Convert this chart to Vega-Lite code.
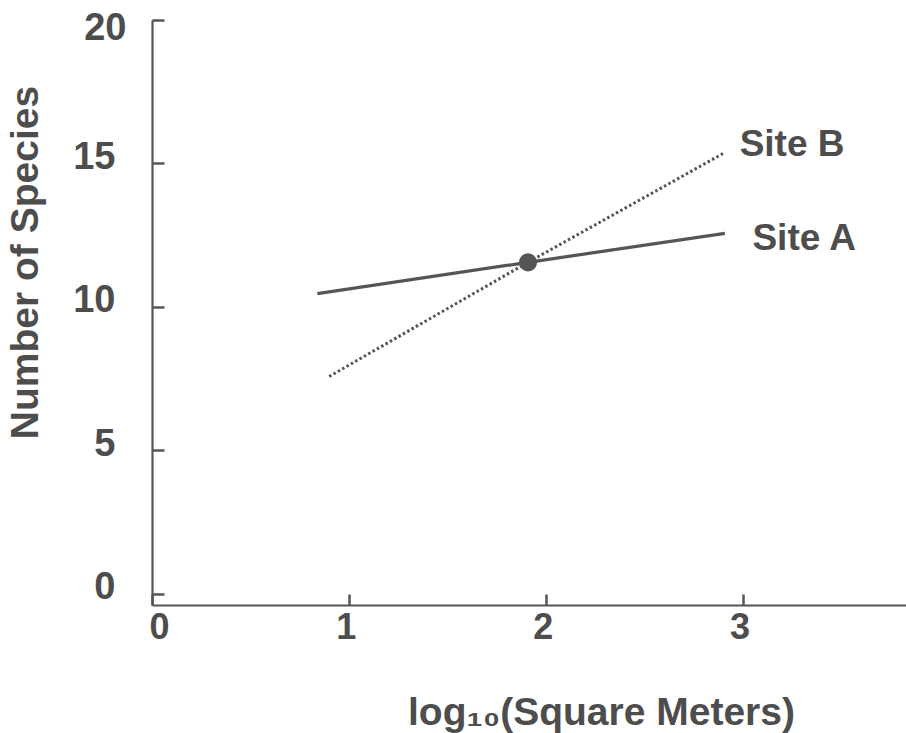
{
  "$schema": "https://vega.github.io/schema/vega-lite/v6.json",
  "width": 754,
  "height": 585,
  "autosize": "none",
  "padding": {"left": 152, "top": 20, "right": 0, "bottom": 128},
  "background": "white",
  "config": {
    "view": {"stroke": null},
    "font": "Liberation Sans",
    "axis": {"grid": false}
  },
  "datasets": {
    "lines": [
      {"site": "Site A", "x": 0.84, "y": 10.46},
      {"site": "Site A", "x": 1.91, "y": 11.55},
      {"site": "Site A", "x": 2.91, "y": 12.56},
      {"site": "Site B", "x": 0.9, "y": 7.57},
      {"site": "Site B", "x": 1.91, "y": 11.55},
      {"site": "Site B", "x": 2.91, "y": 15.38}
    ],
    "point": [{"x": 1.91, "y": 11.55}],
    "labels": [
      {"label": "Site B", "x": 2.985, "y": 15.63},
      {"label": "Site A", "x": 3.05, "y": 12.35}
    ]
  },
  "layer": [
    {
      "data": {"name": "lines"},
      "transform": [{"filter": "datum.site === 'Site A'"}],
      "mark": {"type": "line", "color": "#555555", "strokeWidth": 3.2},
      "encoding": {
        "x": {
          "field": "x", "type": "quantitative",
          "scale": {"domain": [0, 3.83], "nice": false, "zero": false},
          "axis": {
            "values": [0, 1, 2, 3],
            "format": "d",
            "title": "log₁₀(Square Meters)",
            "titleFont": "Liberation Sans",
            "titleFontSize": 39,
            "titleFontWeight": "bold",
            "titleColor": "#4d4d4d",
            "titleX": 449,
            "titleY": 107,
            "titleAlign": "center",
            "titleBaseline": "middle",
            "labelFont": "Liberation Sans",
            "labelFontSize": 36,
            "labelFontWeight": "bold",
            "labelColor": "#4d4d4d",
            "labelPadding": 16,
            "labelOffset": -3,
            "domainColor": "#555555",
            "domainWidth": 2.2,
            "tickColor": "#555555",
            "tickWidth": 2.5,
            "tickSize": -11
          }
        },
        "y": {
          "field": "y", "type": "quantitative",
          "scale": {"domain": [-0.4, 20], "nice": false, "zero": false},
          "axis": {
            "values": [0, 5, 10, 15, 20],
            "title": "Number of Species",
            "titleFont": "Liberation Sans",
            "titleFontSize": 39,
            "titleFontWeight": "bold",
            "titleColor": "#4d4d4d",
            "titleAngle": -90,
            "titleX": -127,
            "titleY": 242,
            "titleAlign": "center",
            "titleBaseline": "middle",
            "labelFont": "Liberation Sans",
            "labelFontSize": 38,
            "labelFontWeight": "bold",
            "labelColor": "#4d4d4d",
            "labelPadding": {"condition": {"test": "datum.value === 20", "value": 38}, "value": 49},
            "labelOffset": {"condition": {"test": "datum.value === 20", "value": 8}, "value": -6},
            "domainColor": "#555555",
            "domainWidth": 2.2,
            "tickColor": "#555555",
            "tickWidth": 2.5,
            "tickSize": -12
          }
        }
      }
    },
    {
      "data": {"name": "lines"},
      "transform": [{"filter": "datum.site === 'Site B'"}],
      "mark": {"type": "line", "color": "#555555", "strokeWidth": 3, "strokeDash": [2.5, 2.5]},
      "encoding": {
        "x": {"field": "x", "type": "quantitative"},
        "y": {"field": "y", "type": "quantitative"}
      }
    },
    {
      "data": {"name": "point"},
      "mark": {"type": "point", "shape": "circle", "filled": true, "color": "#555555", "opacity": 1, "size": 330},
      "encoding": {
        "x": {"field": "x", "type": "quantitative"},
        "y": {"field": "y", "type": "quantitative"}
      }
    },
    {
      "data": {"name": "labels"},
      "mark": {"type": "text", "align": "left", "baseline": "middle", "font": "Liberation Sans", "fontSize": 37, "fontWeight": "bold", "color": "#4d4d4d"},
      "encoding": {
        "x": {"field": "x", "type": "quantitative"},
        "y": {"field": "y", "type": "quantitative"},
        "text": {"field": "label"}
      }
    }
  ]
}
